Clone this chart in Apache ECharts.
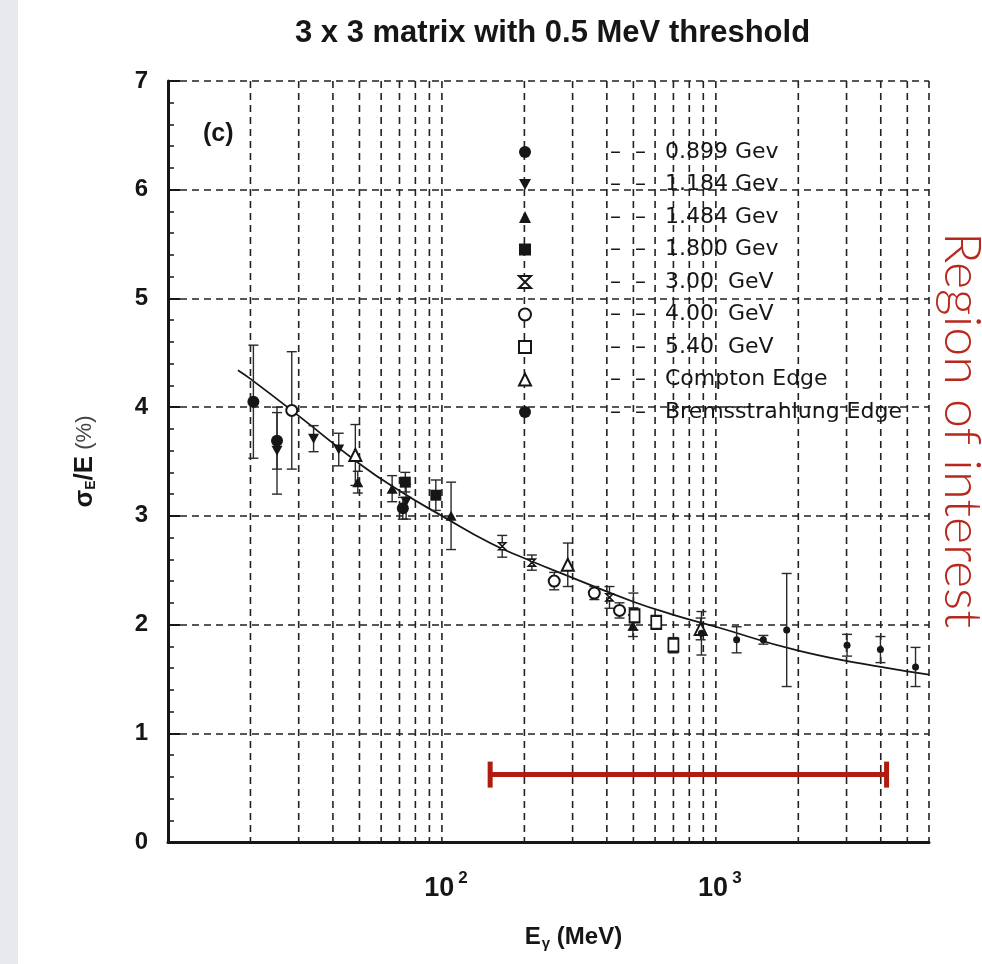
<!DOCTYPE html>
<html>
<head>
<meta charset="utf-8">
<script src="https://cdn.jsdelivr.net/npm/echarts@6.0.0/dist/echarts.min.js"></script>
<style>
  html, body { margin: 0; padding: 0; background: #fff; }
  #chart { width: 982px; height: 964px; }
</style>
</head>
<body>
<div id="chart"></div>
<script>
// ---- data: [E (MeV), sigma/E (%), error] ----
var e0899 = [[20.5, 4.05, 0.52], [25, 3.69, 0.26], [72, 3.07, 0.10]];
var e1184 = [[25, 3.60, 0.40], [34, 3.71, 0.12], [42, 3.61, 0.15], [74, 3.13, 0.16]];
var e1484 = [[49.3, 3.31, 0.10], [65.8, 3.25, 0.12], [108, 3.00, 0.31], [498, 1.99, 0.10]];
var e1800 = [[73.5, 3.31, 0.09], [95, 3.19, 0.14]];
var e300 = [[166, 2.72, 0.10], [213, 2.57, 0.07], [409, 2.25, 0.10], [500, 2.12, 0.17]];
var e400 = [[28.3, 3.97, 0.54], [257, 2.40, 0.08], [360, 2.29, 0.06], [445, 2.13, 0.07]];
var e540 = [[505, 2.08, 0.06], [606, 2.02, 0.06], [700, 1.81, 0.07]];
var eCompton = [[48.3, 3.56, 0.28], [288, 2.55, 0.20], [880, 1.96, 0.10]];
var eBrems = [[886, 1.92, 0.20], [1191, 1.86, 0.12], [1491, 1.86, 0.04], [1814, 1.95, 0.52],
              [3013, 1.81, 0.10], [3989, 1.77, 0.12], [5358, 1.61, 0.18]];

// fit curve
var fitE = [18, 20, 30, 50, 70, 100, 150, 200, 300, 500, 700, 1000, 2000, 4000, 6000];
var fitSigma = [4.34, 4.26, 3.92, 3.48, 3.23, 3.00, 2.75, 2.61, 2.43, 2.21, 2.09, 1.98, 1.76, 1.61, 1.54];

// vertical grid lines (log axis) and the red range marker
var gridX = [20, 30, 40, 50, 60, 70, 80, 90, 100, 200, 300, 400, 500, 600, 700, 800, 900, 1000,
             2000, 3000, 4000, 5000, 6000];
var roiRange = [150, 4200];
var roiLevel = 0.62;

var seriesDefs = [
    { name: '0.899 Gev', data: e0899, symbol: 'circle', size: 12 },
    { name: '1.184 Gev', data: e1184, symbol: 'path://M0,0L10,0L5,9Z', size: [11, 10] },
    { name: '1.484 Gev', data: e1484, symbol: 'triangle', size: [11, 10] },
    { name: '1.800 Gev', data: e1800, symbol: 'rect', size: 11 },
    { name: '3.00  GeV', data: e300, symbol: 'path://M0,0L8,0L4,4L8,8L0,8L4,4Z', size: [7, 7], hollow: true },
    { name: '4.00  GeV', data: e400, symbol: 'emptyCircle', size: 11 },
    { name: '5.40  GeV', data: e540, symbol: 'emptyRect', size: [10, 13] },
    { name: 'Compton Edge', data: eCompton, symbol: 'emptyTriangle', size: 12 },
    { name: 'Bremsstrahlung Edge', data: eBrems, symbol: 'circle', size: 7 }
];

var ink = '#161616';
var dash = [7, 5];

var dom = document.getElementById('chart');
var myChart = echarts.init(dom);

// all error bars in one custom series
var allErr = [];
seriesDefs.forEach(function (s) {
    s.data.forEach(function (d) { allErr.push(d); });
});

function renderErr(params, api) {
    var x = api.value(0), y = api.value(1), e = api.value(2);
    var top = api.coord([x, y + e]);
    var bot = api.coord([x, y - e]);
    var hw = 5;
    var st = { stroke: '#2a2a2a', lineWidth: 1.4 };
    return {
        type: 'group',
        children: [
            { type: 'line', shape: { x1: top[0], y1: top[1], x2: bot[0], y2: bot[1] }, style: st },
            { type: 'line', shape: { x1: top[0] - hw, y1: top[1], x2: top[0] + hw, y2: top[1] }, style: st },
            { type: 'line', shape: { x1: bot[0] - hw, y1: bot[1], x2: bot[0] + hw, y2: bot[1] }, style: st }
        ]
    };
}

function renderGridX(params, api) {
    var p = api.coord([api.value(0), 0]);
    var cs = params.coordSys;
    return {
        type: 'line',
        shape: { x1: p[0], y1: cs.y, x2: p[0], y2: cs.y + cs.height },
        style: { stroke: '#222', lineWidth: 1.6, lineDash: dash }
    };
}

function renderRoi(params, api) {
    var a = api.coord([api.value(0), api.value(2)]);
    var b = api.coord([api.value(1), api.value(2)]);
    var st = { stroke: '#b01c10', lineWidth: 5 };
    return {
        type: 'group',
        children: [
            { type: 'line', shape: { x1: a[0], y1: a[1], x2: b[0], y2: b[1] }, style: st },
            { type: 'line', shape: { x1: a[0], y1: a[1] - 13, x2: a[0], y2: a[1] + 13 }, style: st },
            { type: 'line', shape: { x1: b[0], y1: b[1] - 13, x2: b[0], y2: b[1] + 13 }, style: st }
        ]
    };
}

var series = [
    {
        type: 'custom', name: 'gridx', z: 1, silent: true,
        renderItem: renderGridX,
        encode: { x: 0, y: 1 },
        data: gridX.map(function (v) { return [v, 0]; })
    },
    {
        type: 'line', name: 'fit', z: 3, silent: true,
        smooth: true, showSymbol: false, symbol: 'none',
        lineStyle: { color: ink, width: 1.8 },
        data: fitE.map(function (v, i) { return [v, fitSigma[i]]; })
    },
    {
        type: 'custom', name: 'errors', z: 4, silent: true,
        renderItem: renderErr,
        encode: { x: 0, y: 1 },
        data: allErr
    },
    {
        type: 'custom', name: 'roi', z: 6, silent: true,
        renderItem: renderRoi,
        encode: { x: 0, y: 2 },
        data: [[roiRange[0], roiRange[1], roiLevel]]
    }
];

seriesDefs.forEach(function (s) {
    var hollow = s.hollow || s.symbol.indexOf('empty') === 0;
    series.push({
        type: 'scatter',
        name: s.name,
        z: 5,
        symbol: s.symbol,
        symbolSize: s.size,
        itemStyle: hollow
            ? { color: s.hollow ? '#fff' : ink, borderColor: ink, borderWidth: 1.6, opacity: 1 }
            : { color: ink, opacity: 1 },
        data: s.data.map(function (d) { return [d[0], d[1]]; })
    });
});

var option = {
    animation: false,
    backgroundColor: '#fff',
    title: [
        {
            text: '3 x 3 matrix with 0.5 MeV threshold',
            left: 290, top: 13,
            textStyle: { fontFamily: 'Liberation Sans', fontWeight: 'bold', fontSize: 31, color: ink }
        },
        {
            text: '(c)',
            left: 198, top: 117,
            textStyle: { fontFamily: 'Liberation Sans', fontWeight: 'bold', fontSize: 25, color: ink }
        }
    ],
    graphic: [
        { type: 'rect', left: 0, top: 0, shape: { width: 18, height: 964 }, style: { fill: '#e7e9ec' }, silent: true },
        {
            type: 'text', x: 962, y: 430, rotation: -Math.PI / 2, silent: true,
            style: {
                text: 'Region of interest', fill: '#b8281c',
                font: '300 52px Lato, "Open Sans", sans-serif',
                textAlign: 'center', textVerticalAlign: 'middle'
            }
        }
    ],
    legend: {
        orient: 'vertical',
        left: 513, top: 134,
        itemWidth: 12, itemHeight: 12, itemGap: 6.5,
        selectedMode: false,
        data: seriesDefs.map(function (s) { return s.name; }),
        formatter: function (n) { return '{g| }{d|\u2013  \u2013}{t|' + n + '}'; },
        textStyle: {
            color: ink, fontFamily: 'DejaVu Sans', fontSize: 22, lineHeight: 26,
            rich: {
                g: { width: 74, fontSize: 22 },
                d: { width: 55, fontSize: 22, fontFamily: 'DejaVu Sans', color: ink },
                t: { fontSize: 22, fontFamily: 'DejaVu Sans', color: ink, lineHeight: 26 }
            }
        }
    },
    grid: { left: 168, right: 53, top: 81, bottom: 122, containLabel: false },
    xAxis: {
        type: 'log', logBase: 10, min: 10, max: 6000,
        name: '{b|E}{s|\u03b3}{b| (MeV)}',
        nameLocation: 'middle', nameGap: 82,
        nameTextStyle: {
            padding: [0, 0, 0, 50],
            rich: {
                b: { fontFamily: 'Liberation Sans', fontWeight: 'bold', fontSize: 24, color: ink },
                s: { fontFamily: 'Liberation Sans', fontWeight: 'bold', fontSize: 15, color: ink, padding: [12, 0, 0, 1] }
            }
        },
        axisLine: { show: true, lineStyle: { color: ink, width: 3 } },
        axisTick: { show: false },
        splitLine: { show: false },
        axisLabel: {
            margin: 28,
            formatter: function (v) {
                var p = Math.log10(v), r = Math.round(p);
                if (Math.abs(p - r) > 1e-6 || r < 2 || r > 3) return '';
                return '{g|}{b|10}{s|' + r + '}';
            },
            rich: {
                g: { width: 8 },
                b: { fontFamily: 'Liberation Sans', fontWeight: 'bold', fontSize: 27, color: ink },
                s: { fontFamily: 'Liberation Sans', fontWeight: 'bold', fontSize: 17, color: ink, padding: [0, 0, 20, 4] }
            }
        }
    },
    yAxis: {
        type: 'value', min: 0, max: 7, interval: 1,
        name: '{b|\u03c3}{s|E}{b|/E}{n| (%)}',
        nameLocation: 'middle', nameGap: 70,
        nameTextStyle: {
            rich: {
                b: { fontFamily: 'Liberation Sans', fontWeight: 'bold', fontSize: 26, color: ink },
                s: { fontFamily: 'Liberation Sans', fontWeight: 'bold', fontSize: 14, color: ink, padding: [12, 0, 0, 0] },
                n: { fontFamily: 'Liberation Sans', fontSize: 22, color: '#444' }
            }
        },
        axisLine: { show: true, lineStyle: { color: ink, width: 3 } },
        axisTick: { show: true, inside: true, length: 12, lineStyle: { color: ink, width: 2 } },
        minorTick: { show: true, splitNumber: 5, length: 6, lineStyle: { color: ink, width: 1.5 } },
        splitLine: { show: true, lineStyle: { color: '#222', width: 1.6, type: dash } },
        axisLabel: {
            margin: 20, color: ink,
            fontFamily: 'Liberation Sans', fontWeight: 'bold', fontSize: 24
        }
    },
    series: series
};

if (option && typeof option === 'object') {
    myChart.setOption(option);
}
</script>
</body>
</html>
